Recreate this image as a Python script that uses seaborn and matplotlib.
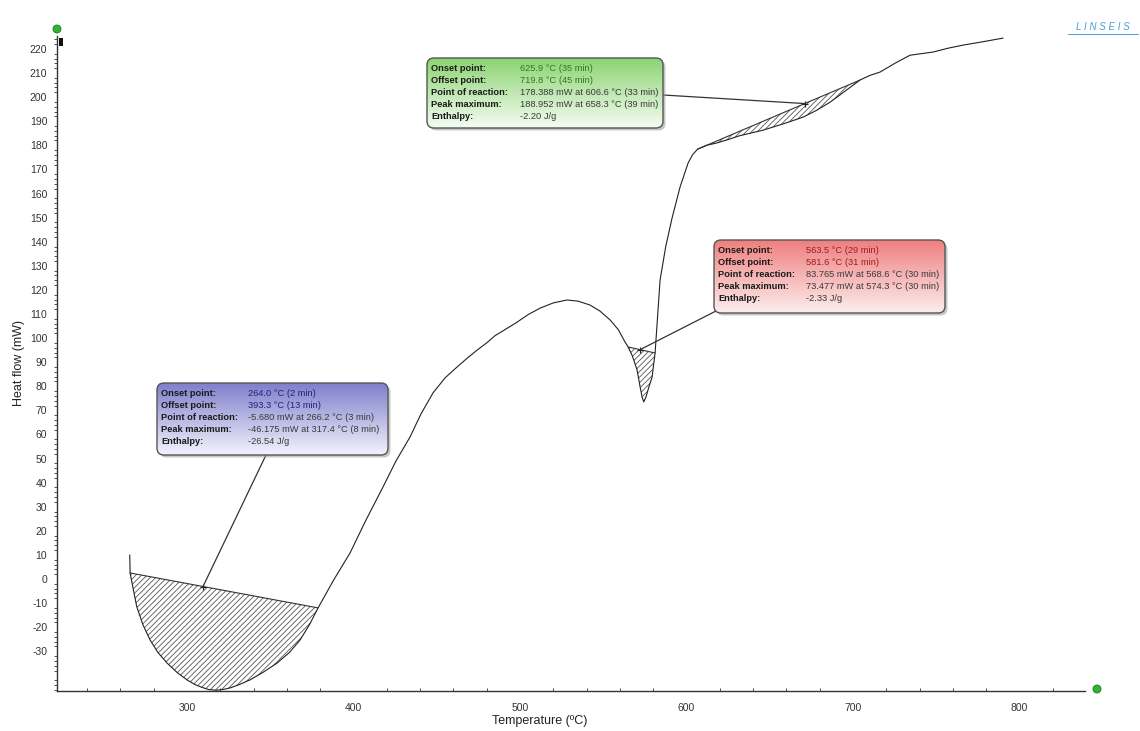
import numpy as np
import pandas as pd
import matplotlib
matplotlib.use("Agg")
import matplotlib.pyplot as plt
from matplotlib.patches import FancyBboxPatch, ConnectionPatch, Circle, Rectangle
import seaborn as sns

# DSC heat-flow curve (temperature in °C, heat flow in mW)
temperature = [265.6, 265.8, 267.8, 269.8, 273.5, 277.8, 282.5, 288.0, 294.0, 300.0,
               305.0, 309.0, 313.0, 317.4, 321.5, 326.0, 331.5, 337.8, 346.0, 354.1,
               361.5, 367.9, 373.5, 378.7, 388.0, 397.9, 407.5, 417.7, 425.5, 433.9,
               440.5, 447.7, 455.0, 462.2, 468.0, 474.2, 480.0, 485.0, 491.0, 498.2,
               505.0, 512.0, 520.0, 528.2, 535.0, 542.0, 548.0, 554.1, 559.0, 563.1,
               564.9, 567.5, 570.3, 572.1, 573.3, 574.3, 575.6, 577.3, 579.3, 581.1,
               584.1, 587.5, 591.3, 596.1, 600.9, 603.5, 606.6, 612.0, 618.3, 625.0,
               632.0, 646.0, 658.3, 670.0, 678.0, 686.2, 695.0, 704.2, 710.0, 716.2,
               725.0, 734.2, 748.0, 757.0, 766.1, 778.0, 790.1]
heat_flow = [10.0, 2.5, -4.6, -11.5, -19.0, -25.3, -30.5, -34.9, -38.8, -41.9,
             -43.9, -45.0, -45.9, -46.175, -45.9, -45.2, -43.8, -41.9, -38.6, -34.9,
             -30.5, -25.3, -19.0, -12.0, -0.5, 10.8, 24.5, 38.2, 49.0, 58.9,
             68.5, 77.2, 83.5, 88.0, 91.5, 95.0, 98.0, 101.0, 103.5, 106.6,
             109.8, 112.4, 114.6, 115.8, 115.3, 113.7, 111.2, 107.5, 103.5, 98.3,
             96.3, 92.5, 86.7, 79.7, 75.5, 73.477, 75.5, 79.5, 83.8, 93.8,
             124.1, 138.0, 149.8, 162.7, 172.6, 176.0, 178.388, 180.0, 181.0, 182.4,
             184.0, 186.3, 188.952, 191.7, 194.5, 197.9, 202.4, 207.1, 209.0, 210.4,
             214.0, 217.4, 218.7, 220.3, 221.6, 223.0, 224.5]

# Integration baselines of the three evaluated effects: (T0, Y0, T1, Y1)
baseline_blue = [265.8, 2.5, 378.7, -12.0]
baseline_red = [564.9, 96.3, 581.1, 93.8]
baseline_green = [606.6, 178.4, 704.2, 207.1]
pointer_temps = [309.6, 572.1, 671.0]

result_labels = ["Onset point:", "Offset point:", "Point of reaction:", "Peak maximum:", "Enthalpy:"]
results_blue = ["264.0 °C (2 min)", "393.3 °C (13 min)", "-5.680 mW at 266.2 °C (3 min)",
                "-46.175 mW at 317.4 °C (8 min)", "-26.54 J/g"]
results_red = ["563.5 °C (29 min)", "581.6 °C (31 min)", "83.765 mW at 568.6 °C (30 min)",
               "73.477 mW at 574.3 °C (30 min)", "-2.33 J/g"]
results_green = ["625.9 °C (35 min)", "719.8 °C (45 min)", "178.388 mW at 606.6 °C (33 min)",
                 "188.952 mW at 658.3 °C (39 min)", "-2.20 J/g"]

y_major = list(range(-40, 221, 10))
x_major = [300, 400, 500, 600, 700, 800]

sns.set_style("white")
plt.rcParams["font.family"] = ["Liberation Sans", "DejaVu Sans"]
plt.rcParams["hatch.linewidth"] = 0.6

W, H = 1140, 731
fig = plt.figure(figsize=(W / 100, H / 100), dpi=100)
ax = fig.add_axes([57 / W, 1 - 691 / H, (1085 - 57) / W, (691 - 35.7) / H])

df = pd.DataFrame({"temperature": temperature, "heat_flow": heat_flow})
sns.lineplot(data=df, x="temperature", y="heat_flow", sort=False, color="#222222",
             linewidth=0.8, ax=ax, zorder=3)

ax.set_xlim(221.9, 839.3)
ax.set_ylim(-46.5, 225.5)

t_arr = np.array(temperature)
y_arr = np.array(heat_flow)


def base_at(b, t):
    t0, y0, t1, y1 = b
    return y0 + (y1 - y0) * (np.asarray(t) - t0) / (t1 - t0)


for b in (baseline_blue, baseline_red, baseline_green):
    t0, y0, t1, y1 = b
    inside = (t_arr > t0) & (t_arr < t1)
    tt = np.concatenate([[t0], t_arr[inside], [t1]])
    yy = np.interp(tt, t_arr, y_arr)
    ax.fill_between(tt, yy, base_at(b, tt), facecolor="none", edgecolor="#555555",
                    hatch="//////", linewidth=0, zorder=2)
    ax.plot([t0, t1], [y0, y1], color="#333333", linewidth=0.8, zorder=3)

# Axis styling
for s in ("top", "right"):
    ax.spines[s].set_visible(False)
for s in ("left", "bottom"):
    ax.spines[s].set_color("#333333")
    ax.spines[s].set_linewidth(1.0)

ax.set_yticks(y_major)
ax.set_yticklabels(["" if v < -30 else str(v) for v in y_major])
ax.set_yticks(np.arange(-46, 226, 2), minor=True)
ax.set_xticks(x_major)
ax.set_xticks(np.arange(240, 840, 20), minor=True)
ax.tick_params(axis="both", which="major", labelsize=7.5, labelcolor="#333333",
               color="#333333", width=0.8)
ax.tick_params(axis="y", which="major", direction="out", length=5, pad=2)
ax.tick_params(axis="y", which="minor", direction="out", length=2.5, width=0.6,
               color="#333333", left=True)
ax.tick_params(axis="x", which="major", direction="inout", length=5, pad=6)
ax.tick_params(axis="x", which="minor", direction="in", length=2.5, width=0.6,
               color="#333333", bottom=True)
ax.set_xlabel("Temperature (ºC)", fontsize=9, color="#222222")
ax.set_ylabel("Heat flow (mW)", fontsize=9, color="#222222")
ax.xaxis.set_label_coords(0.47, -0.036)
ax.yaxis.set_label_coords(-0.031, 0.5)

# Overlay in pixel units for the result boxes and decorations
ov = fig.add_axes([0, 0, 1, 1], zorder=5)
ov.set_xlim(0, W)
ov.set_ylim(H, 0)
ov.axis("off")
ov.patch.set_alpha(0)


def result_box(x0, y0, w, h, top_rgb, bottom_rgb, value_rgb, values, val_dx):
    shadow = FancyBboxPatch((x0 + 2.5, y0 + 2.5), w, h, boxstyle="round,pad=0,rounding_size=7",
                            facecolor="#9a9a9a", edgecolor="none", alpha=0.55, zorder=1)
    ov.add_patch(shadow)
    box = FancyBboxPatch((x0, y0), w, h, boxstyle="round,pad=0,rounding_size=7",
                         facecolor="none", edgecolor="#555555", linewidth=1.0, zorder=3)
    ov.add_patch(box)
    frac = np.linspace(0, 1, 64)[:, None, None]
    grad = np.array(top_rgb)[None, None, :] * (1 - frac) + np.array(bottom_rgb)[None, None, :] * frac
    img = ov.imshow(grad, extent=(x0, x0 + w, y0 + h, y0), aspect="auto",
                    interpolation="bilinear", zorder=2)
    img.set_clip_path(box)
    for i, (lab, val) in enumerate(zip(result_labels, values)):
        yy = y0 + 10.5 + 12 * i
        ov.text(x0 + 4, yy, lab, fontsize=6.7, fontweight="bold", color="#1a1a1a",
                va="center", ha="left", zorder=4)
        col = value_rgb if i < 2 else "#3a3a3a"
        ov.text(x0 + val_dx, yy, val, fontsize=6.7, color=col, va="center", ha="left", zorder=4)
    ov.set_xlim(0, W)
    ov.set_ylim(H, 0)


result_box(427, 58, 236, 70, (0.55, 0.83, 0.45), (0.96, 0.99, 0.95), "#2a7a1e", results_green, 93)
result_box(714, 240, 231, 73, (0.94, 0.50, 0.50), (0.99, 0.93, 0.93), "#9a1e1e", results_red, 92)
result_box(157, 383, 231, 72, (0.50, 0.50, 0.80), (0.95, 0.95, 0.99), "#22227a", results_blue, 91)

# Pointers from the boxes to the evaluated baselines
anchors = [(266, 455), (716, 311), (663, 95)]
for anchor, tp, b in zip(anchors, pointer_temps, (baseline_blue, baseline_red, baseline_green)):
    yp = float(base_at(b, tp))
    con = ConnectionPatch(xyA=anchor, coordsA=ov.transData, xyB=(tp, yp), coordsB=ax.transData,
                          color="#333333", linewidth=0.9, zorder=4)
    fig.add_artist(con)
    ax.plot([tp], [yp], marker="+", color="#222222", markersize=5, markeredgewidth=0.8, zorder=4)

# Cursor markers and logo
ov.add_patch(Circle((57, 29), 4, facecolor="#2fb52f", edgecolor="#1c7a1c", linewidth=0.6, zorder=6))
ov.add_patch(Circle((1097, 689), 4, facecolor="#2fb52f", edgecolor="#1c7a1c", linewidth=0.6, zorder=6))
ov.add_patch(Rectangle((59, 38), 4, 8, facecolor="#111111", edgecolor="none", zorder=6))
ov.text(1103, 32, "L I N S E I S", fontsize=7, fontstyle="italic", color="#4a9fd4",
        ha="center", va="bottom", zorder=6)
ov.plot([1068, 1138], [34, 34], color="#4a9fd4", linewidth=0.7, zorder=6)

fig.savefig("out.png", dpi=100)
